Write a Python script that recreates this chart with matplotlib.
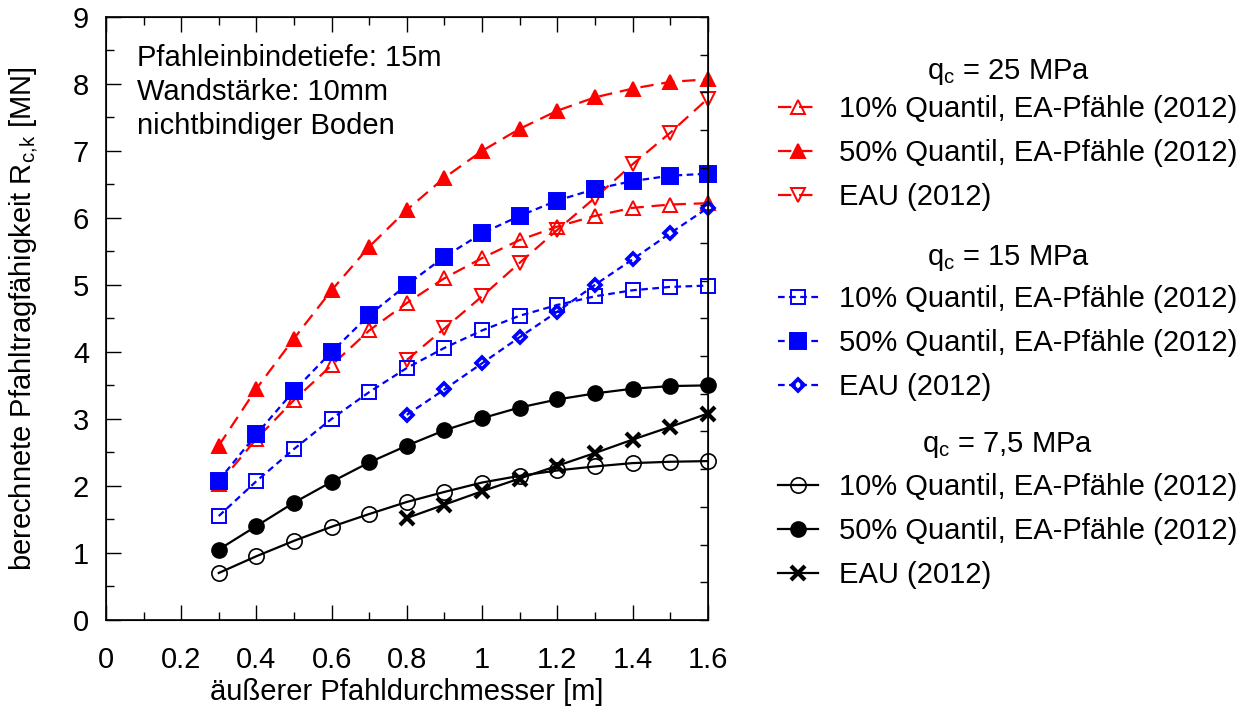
import numpy as np
import matplotlib.pyplot as plt
from matplotlib.ticker import MultipleLocator

plt.rcParams['font.family'] = ['Liberation Sans', 'DejaVu Sans']
plt.rcParams['font.size'] = 21
plt.rcParams['mathtext.fontset'] = 'custom'
plt.rcParams['mathtext.rm'] = 'Liberation Sans'

# Durchmesser [m]
d_all = [0.3, 0.4, 0.5, 0.6, 0.7, 0.8, 0.9, 1.0, 1.1, 1.2, 1.3, 1.4, 1.5, 1.6]
d_eau = [0.8, 0.9, 1.0, 1.1, 1.2, 1.3, 1.4, 1.5, 1.6]

# qc = 25 MPa
q25_10 = [2.03, 2.70, 3.28, 3.80, 4.32, 4.73, 5.10, 5.40, 5.67, 5.87, 6.03, 6.15, 6.20, 6.22]
q25_50 = [2.60, 3.45, 4.20, 4.92, 5.57, 6.12, 6.60, 7.00, 7.33, 7.60, 7.80, 7.93, 8.03, 8.07]
q25_eau = [3.88, 4.35, 4.83, 5.33, 5.82, 6.30, 6.80, 7.27, 7.78]

# qc = 15 MPa
q15_10 = [1.55, 2.07, 2.55, 3.00, 3.40, 3.76, 4.06, 4.32, 4.54, 4.70, 4.83, 4.92, 4.97, 4.99]
q15_50 = [2.08, 2.77, 3.42, 4.00, 4.55, 5.00, 5.42, 5.77, 6.03, 6.26, 6.43, 6.55, 6.63, 6.66]
q15_eau = [3.06, 3.44, 3.83, 4.22, 4.60, 5.00, 5.38, 5.77, 6.15]

# qc = 7,5 MPa
q75_10 = [0.70, 0.95, 1.18, 1.39, 1.58, 1.76, 1.91, 2.05, 2.15, 2.23, 2.29, 2.34, 2.36, 2.37]
q75_50 = [1.05, 1.40, 1.75, 2.06, 2.35, 2.60, 2.83, 3.01, 3.17, 3.29, 3.38, 3.45, 3.49, 3.50]
q75_eau = [1.52, 1.72, 1.92, 2.11, 2.30, 2.49, 2.69, 2.88, 3.08]

lbl10 = "10% Quantil, EA-Pfähle (2012)"
lbl50 = "50% Quantil, EA-Pfähle (2012)"
lbleau = "EAU (2012)"

fig = plt.figure(figsize=(12.46, 7.06), dpi=100)
ax = fig.add_axes([0.085, 0.122, 0.483, 0.854])

red_ls = (0, (6, 3.5))
blue_ls = (0, (3, 2))
lw = 1.6

h25 = [
    ax.plot(d_all, q25_10, color='red', ls=red_ls, lw=lw, marker='^', ms=9.5, mfc='none', mew=1.4, clip_on=False, label=lbl10)[0],
    ax.plot(d_all, q25_50, color='red', ls=red_ls, lw=lw, marker='^', ms=9.5, mew=1.4, clip_on=False, label=lbl50)[0],
    ax.plot(d_eau, q25_eau, color='red', ls=red_ls, lw=lw, marker='v', ms=10.5, mfc='none', mew=1.4, clip_on=False, label=lbleau)[0],
]
h15 = [
    ax.plot(d_all, q15_10, color='blue', ls=blue_ls, lw=lw, marker='s', ms=10.5, mfc='none', mew=1.4, clip_on=False, label=lbl10)[0],
    ax.plot(d_all, q15_50, color='blue', ls=blue_ls, lw=lw, marker='s', ms=11.5, mew=1.4, clip_on=False, label=lbl50)[0],
    ax.plot(d_eau, q15_eau, color='blue', ls=blue_ls, lw=lw, marker='D', ms=6, mfc='none', mew=2.6, clip_on=False, label=lbleau)[0],
]
h75 = [
    ax.plot(d_all, q75_10, color='black', ls='-', lw=lw, marker='o', ms=11, mfc='none', mew=1.2, clip_on=False, label=lbl10)[0],
    ax.plot(d_all, q75_50, color='black', ls='-', lw=lw, marker='o', ms=11, clip_on=False, label=lbl50)[0],
    ax.plot(d_eau, q75_eau, color='black', ls='-', lw=lw, marker='x', ms=10, mew=3, clip_on=False, label=lbleau)[0],
]

ax.set_xlim(0, 1.6)
ax.set_ylim(0, 9)
ax.xaxis.set_minor_locator(MultipleLocator(0.1))
ax.yaxis.set_major_locator(MultipleLocator(1))
ax.yaxis.set_minor_locator(MultipleLocator(0.5))
ax.set_xticks(np.arange(0, 1.61, 0.2))
ax.set_xticklabels(['0', '0.2', '0.4', '0.6', '0.8', '1', '1.2', '1.4', '1.6'])
ax.tick_params(which='both', direction='in', top=True, right=False, width=1)
ax.tick_params(which='major', length=11)
ax.tick_params(which='minor', length=6)
ax.tick_params(axis='x', which='major', pad=19)
ax.tick_params(axis='y', which='major', pad=12)
for s in ax.spines.values():
    s.set_linewidth(1.2)

# rechte Achse mit eigener Teilung, ohne Beschriftung
ax2 = ax.twinx()
ax2.set_ylim(0, 16)
ax2.yaxis.set_major_locator(MultipleLocator(1))
ax2.tick_params(direction='in', length=6, labelright=False, width=1)

ax.set_xlabel("äußerer Pfahldurchmesser [m]", labelpad=3)
ax.set_ylabel(r"berechnete Pfahltragfähigkeit R$_{\mathrm{c{,}k}}$ [MN]", labelpad=24)

ax.text(0.052, 0.955, "Pfahleinbindetiefe: 15m\nWandstärke: 10mm\nnichtbindiger Boden",
        transform=ax.transAxes, va='top', ha='left', linespacing=1.26)

leg_kw = dict(frameon=False, handlelength=1.4, handletextpad=0.7, labelspacing=0.55,
              borderaxespad=0, borderpad=0, fontsize=21, loc='upper left')
tops = [0.8654, 0.5963, 0.330]
title_y = [1 - 72 / 706, 1 - 258 / 706, 1 - 445 / 706]
titles = [r"q$_\mathrm{c}$ = 25 MPa", r"q$_\mathrm{c}$ = 15 MPa", r"q$_\mathrm{c}$ = 7,5 MPa"]
for hs, top, t, ty in zip([h25, h15, h75], tops, titles, title_y):
    fig.legend(handles=hs, bbox_to_anchor=(0.624, top), **leg_kw)
    fig.text(0.809, ty, t, ha='center', va='center')

fig.savefig("out.png", dpi=100)
